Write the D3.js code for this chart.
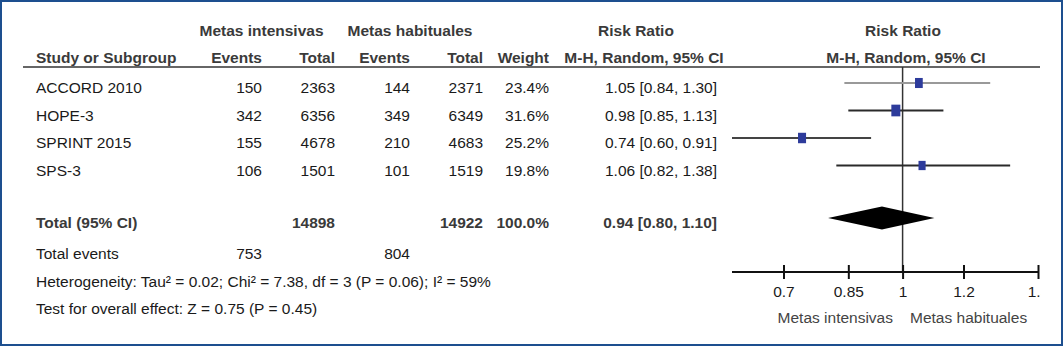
<!DOCTYPE html>
<html>
<head>
<meta charset="utf-8">
<script src="https://cdn.jsdelivr.net/npm/d3@7"></script>
<style>
  body { margin: 0; background: #fff; }
  svg text { font-family: "Liberation Sans", Arial, sans-serif; font-size: 15.5px; }
</style>
</head>
<body>
<svg width="1063" height="346"></svg>
<script>
// study rows
const studies   = ["ACCORD 2010", "HOPE-3", "SPRINT 2015", "SPS-3"]
const eventsInt = [150, 342, 155, 106]
const totalInt  = [2363, 6356, 4678, 1501]
const eventsHab = [144, 349, 210, 101]
const totalHab  = [2371, 6349, 4683, 1519]
const weights   = [23.4, 31.6, 25.2, 19.8]
const rr        = [1.05, 0.98, 0.74, 1.06]
const ciLow     = [0.84, 0.85, 0.60, 0.82]
const ciHigh    = [1.30, 1.13, 0.91, 1.38]
// pooled
const pooled      = [0.94, 0.80, 1.10]   // rr, low, high
const totals      = [14898, 14922]
const totalEvents = [753, 804]
const totalWeight = 100.0
// axis
const tickVals = [0.7, 0.85, 1, 1.2, 1.5]
const footLines = [
  "Heterogeneity: Tau\u00b2 = 0.02; Chi\u00b2 = 7.38, df = 3 (P = 0.06); I\u00b2 = 59%",
  "Test for overall effect: Z = 0.75 (P = 0.45)"
]

const svg = d3.select("svg")
const dark = "#1a1a1a", head = "#3a3a3a"

// frame
svg.append("rect").attr("x", 1).attr("y", 1).attr("width", 1061).attr("height", 344)
  .attr("fill", "none").attr("stroke", "#1d4f8f").attr("stroke-width", 2)

const x = d3.scaleLog().domain([0.6, 1.5]).range([732, 1038])
const rowY = d3.scaleLinear().domain([0, 3]).range([87.5, 170])
const base = 5.5   // text baseline offset from row centre
const markOff = -4.5

const cols = { study: 36, evI: 262, totI: 335, evH: 410, totH: 483, wt: 549, ci: 717 }
const fmtCI = (r, l, h) => `${r.toFixed(2)} [${l.toFixed(2)}, ${h.toFixed(2)}]`

function txt(s, xx, yy, anchor, bold, col){
  return svg.append("text").attr("x", xx).attr("y", yy)
    .attr("text-anchor", anchor || "start")
    .attr("font-weight", bold ? "bold" : "normal")
    .attr("fill", col || dark).text(s)
}

// headers
txt("Metas intensivas", 261.5, 35.5, "middle", true, head)
txt("Metas habituales", 410, 35.5, "middle", true, head)
txt("Risk Ratio", 636, 35.5, "middle", true, head)
txt("Risk Ratio", 903, 35.5, "middle", true, head)
txt("Study or Subgroup", cols.study, 62.5, "start", true, head)
txt("Events", cols.evI, 62.5, "end", true, head)
txt("Total", cols.totI, 62.5, "end", true, head)
txt("Events", cols.evH, 62.5, "end", true, head)
txt("Total", cols.totH, 62.5, "end", true, head)
txt("Weight", cols.wt, 62.5, "end", true, head)
txt("M-H, Random, 95% CI", 644, 62.5, "middle", true, head)
txt("M-H, Random, 95% CI", 906, 62.5, "middle", true, head)

svg.append("line").attr("x1", 23).attr("x2", 1040).attr("y1", 67).attr("y2", 67)
  .attr("stroke", "#333").attr("stroke-width", 1.5)

// table rows
const rows = svg.append("g").selectAll("g").data(studies).enter().append("g")
rows.each(function(d, i){
  const yy = rowY(i) + base
  txt(d, cols.study, yy, "start")
  txt(eventsInt[i], cols.evI, yy, "end")
  txt(totalInt[i], cols.totI, yy, "end")
  txt(eventsHab[i], cols.evH, yy, "end")
  txt(totalHab[i], cols.totH, yy, "end")
  txt(weights[i].toFixed(1) + "%", cols.wt, yy, "end")
  txt(fmtCI(rr[i], ciLow[i], ciHigh[i]), cols.ci, yy, "end")
})

// total rows
const totY = 222, evY = 253
txt("Total (95% CI)", cols.study, totY + base, "start", true, head)
txt(totals[0], cols.totI, totY + base, "end", true, head)
txt(totals[1], cols.totH, totY + base, "end", true, head)
txt(totalWeight.toFixed(1) + "%", cols.wt, totY + base, "end", true, head)
txt(fmtCI(pooled[0], pooled[1], pooled[2]), cols.ci, totY + base, "end", true, head)
txt("Total events", cols.study, evY + base, "start")
txt(totalEvents[0], cols.evI, evY + base, "end")
txt(totalEvents[1], cols.evH, evY + base, "end")
txt(footLines[0], cols.study, 281 + base, "start")
txt(footLines[1], cols.study, 308 + base, "start")

// forest plot
const axisY = 272
svg.append("line").attr("x1", x(1)).attr("x2", x(1)).attr("y1", 67).attr("y2", axisY)
  .attr("stroke", "#333").attr("stroke-width", 1.5)

const lineCol = ["#999", "#2a2a2a", "#444", "#2a2a2a"]
const plot = svg.append("g")
plot.selectAll("line.ci").data(studies).enter().append("line")
  .attr("class", "ci")
  .attr("x1", (d, i) => x(ciLow[i])).attr("x2", (d, i) => x(ciHigh[i]))
  .attr("y1", (d, i) => rowY(i) + markOff).attr("y2", (d, i) => rowY(i) + markOff)
  .attr("stroke", (d, i) => lineCol[i]).attr("stroke-width", 2)

const mw = w => 1.6 * Math.sqrt(w)
plot.selectAll("rect.m").data(studies).enter().append("rect")
  .attr("class", "m")
  .attr("x", (d, i) => x(rr[i]) - mw(weights[i]) / 2)
  .attr("y", (d, i) => rowY(i) + markOff - mw(weights[i]) * 0.65)
  .attr("width", (d, i) => mw(weights[i]))
  .attr("height", (d, i) => mw(weights[i]) * 1.3)
  .attr("fill", "#2d3b9b")

const dy = totY - 4
plot.append("polygon")
  .attr("points", [[x(pooled[1]), dy], [x(pooled[0]), dy - 11.5], [x(pooled[2]), dy], [x(pooled[0]), dy + 11.5]].join(" "))
  .attr("fill", "#000")

// axis (last label is cut by the panel edge, as in the source)
svg.append("clipPath").attr("id", "clipAx").append("rect")
  .attr("x", 700).attr("y", 250).attr("width", 341).attr("height", 60)
const axWrap = svg.append("g").attr("clip-path", "url(#clipAx)")
const axis = d3.axisBottom(x).tickValues(tickVals).tickFormat(d3.format("")).tickSize(7).tickPadding(7)
const ax = axWrap.append("g").attr("transform", `translate(0,${axisY})`).call(axis)
ax.select(".domain").remove()
ax.append("line").attr("x1", 732).attr("x2", 1038).attr("stroke", "#111").attr("stroke-width", 2)
ax.selectAll(".tick line").attr("y1", -7).attr("stroke", "#111").attr("stroke-width", 2)
ax.selectAll(".tick text").attr("fill", dark).style("font-size", "15.5px")
  .style("font-family", "'Liberation Sans', Arial, sans-serif")

txt("Metas intensivas", 893, 323, "end", false, "#444")
txt("Metas habituales", 910, 323, "start", false, "#444")
</script>
</body>
</html>
